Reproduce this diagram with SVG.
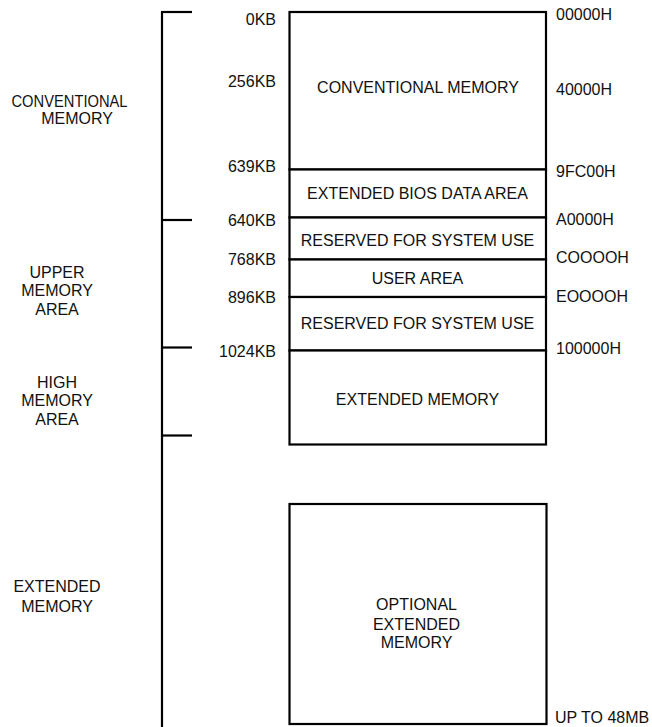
<svg xmlns="http://www.w3.org/2000/svg" width="652" height="727" viewBox="0 0 652 727">
<style>
  .ln{stroke:#000;stroke-width:2.2;fill:none}
  .box{stroke:#000;stroke-width:2.2;fill:#fff}
  text{font-family:"Liberation Sans",Arial,sans-serif;font-size:16px;fill:#111}
  .r{text-anchor:end}
  .c{text-anchor:middle}
</style>
<rect width="652" height="727" fill="#fff"/>
<g id="connectors">
  <path class="ln" d="M162 12 V727"/>
  <path class="ln" d="M161 12 H192"/>
  <path class="ln" d="M162 220 H192"/>
  <path class="ln" d="M162 347.5 H192"/>
  <path class="ln" d="M162 435.5 H192"/>
</g>
<g id="left-labels">
  <text x="69.5" y="106.5" class="c" textLength="116" lengthAdjust="spacingAndGlyphs">CONVENTIONAL</text>
  <text x="77" y="124" class="c">MEMORY</text>
  <text x="57" y="277.5" class="c">UPPER</text>
  <text x="57" y="296" class="c">MEMORY</text>
  <text x="57" y="314.5" class="c">AREA</text>
  <text x="57" y="387.5" class="c">HIGH</text>
  <text x="57" y="406" class="c">MEMORY</text>
  <text x="57" y="424.5" class="c">AREA</text>
  <text x="57" y="591.5" class="c">EXTENDED</text>
  <text x="57" y="611.5" class="c">MEMORY</text>
</g>
<g id="kb-labels">
  <text x="276" y="25" class="r">0KB</text>
  <text x="276" y="86.5" class="r">256KB</text>
  <text x="276" y="172" class="r">639KB</text>
  <text x="276" y="225.5" class="r">640KB</text>
  <text x="276" y="265" class="r">768KB</text>
  <text x="276" y="302.5" class="r">896KB</text>
  <text x="276" y="356.5" class="r">1024KB</text>
</g>
<g id="hex-labels">
  <text x="556" y="20">00000H</text>
  <text x="556" y="94.5">40000H</text>
  <text x="556" y="176.5">9FC00H</text>
  <text x="556" y="225">A0000H</text>
  <text x="556" y="262.5">COOOOH</text>
  <text x="556" y="301.5">EOOOOH</text>
  <text x="556" y="353.5">100000H</text>
  <text x="555" y="723">UP TO 48MB</text>
</g>
<g id="conventional">
  <rect class="box" x="289.5" y="12" width="256.5" height="157.5"/>
  <text x="418" y="92.5" class="c">CONVENTIONAL MEMORY</text>
</g>
<g id="ebda">
  <rect class="box" x="289.5" y="169.5" width="256.5" height="48"/>
  <text x="417.5" y="198.5" class="c">EXTENDED BIOS DATA AREA</text>
</g>
<g id="reserved1">
  <rect class="box" x="289.5" y="217.5" width="256.5" height="42"/>
  <text x="417.5" y="246" class="c">RESERVED FOR SYSTEM USE</text>
</g>
<g id="user-area">
  <rect class="box" x="289.5" y="259.5" width="256.5" height="37.5"/>
  <text x="417.5" y="283.5" class="c">USER AREA</text>
</g>
<g id="reserved2">
  <rect class="box" x="289.5" y="297" width="256.5" height="53.5"/>
  <text x="417.5" y="328.5" class="c">RESERVED FOR SYSTEM USE</text>
</g>
<g id="extended">
  <rect class="box" x="289.5" y="350.5" width="256.5" height="94"/>
  <text x="417.5" y="404.5" class="c">EXTENDED MEMORY</text>
</g>
<g id="optional">
  <rect class="box" x="289.5" y="504" width="257" height="220"/>
  <text x="416.5" y="610" class="c">OPTIONAL</text>
  <text x="416.5" y="629.5" class="c">EXTENDED</text>
  <text x="416.5" y="647.5" class="c">MEMORY</text>
</g>
</svg>
